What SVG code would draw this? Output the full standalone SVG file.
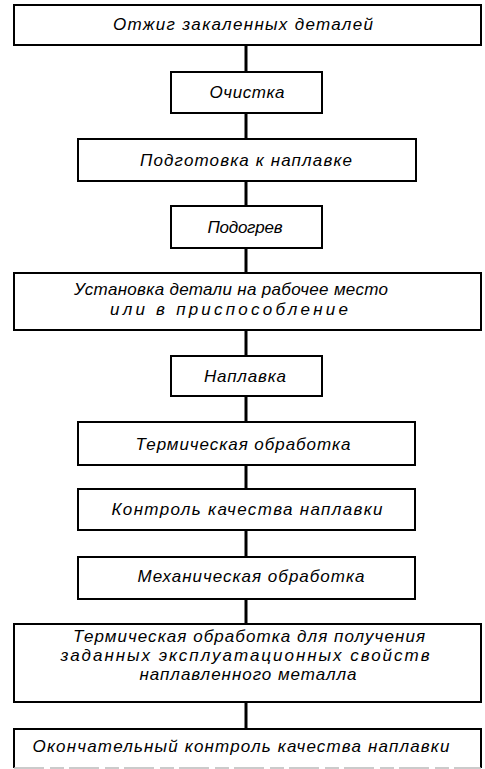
<svg xmlns="http://www.w3.org/2000/svg" width="485" height="769" viewBox="0 0 485 769">
<style>
.box{fill:#fff;stroke:#000;stroke-width:2}
.t{font-family:"Liberation Sans","DejaVu Sans",sans-serif;font-style:italic;font-size:17px;fill:#000;text-anchor:middle}
.c{stroke:#000;stroke-width:3;fill:none}
</style>
<rect width="485" height="769" fill="#fff"/>
<g id="connectors">
<line class="c" x1="246" y1="45" x2="246" y2="72"/>
<line class="c" x1="246" y1="113" x2="246" y2="139"/>
<line class="c" x1="246" y1="181" x2="246" y2="206"/>
<line class="c" x1="246" y1="248" x2="246" y2="273"/>
<line class="c" x1="246" y1="330" x2="246" y2="356"/>
<line class="c" x1="246" y1="396" x2="246" y2="422"/>
<line class="c" x1="246" y1="465" x2="246" y2="489"/>
<line class="c" x1="246" y1="530" x2="246" y2="557"/>
<line class="c" x1="246" y1="599" x2="246" y2="624"/>
<line class="c" x1="246" y1="702" x2="246" y2="729"/>
</g>
<g id="n1"><rect class="box" x="14" y="5" width="467" height="40"/><text class="t" x="243" y="30" textLength="260" lengthAdjust="spacing">Отжиг закаленных деталей</text></g>
<g id="n2"><rect class="box" x="171" y="72" width="151" height="41"/><text class="t" x="247" y="98" textLength="75" lengthAdjust="spacing">Очистка</text></g>
<g id="n3"><rect class="box" x="78" y="139" width="338" height="42"/><text class="t" x="246" y="166" textLength="212" lengthAdjust="spacing">Подготовка к наплавке</text></g>
<g id="n4"><rect class="box" x="171" y="206" width="151" height="42"/><text class="t" x="245" y="233" textLength="75" lengthAdjust="spacing">Подогрев</text></g>
<g id="n5"><rect class="box" x="14" y="273" width="467" height="57"/><text class="t" x="231" y="295" textLength="314" lengthAdjust="spacing">Установка детали на рабочее место</text><text class="t" x="229" y="315" textLength="238" lengthAdjust="spacing">или в приспособление</text></g>
<g id="n6"><rect class="box" x="171" y="356" width="151" height="40"/><text class="t" x="245" y="382" textLength="82" lengthAdjust="spacing">Наплавка</text></g>
<g id="n7"><rect class="box" x="78" y="422" width="337" height="43"/><text class="t" x="243" y="450" textLength="215" lengthAdjust="spacing">Термическая обработка</text></g>
<g id="n8"><rect class="box" x="78" y="489" width="337" height="41"/><text class="t" x="247" y="515" textLength="271" lengthAdjust="spacing">Контроль качества наплавки</text></g>
<g id="n9"><rect class="box" x="78" y="557" width="337" height="42"/><text class="t" x="251" y="582" textLength="227" lengthAdjust="spacing">Механическая обработка</text></g>
<g id="n10"><rect class="box" x="14" y="624" width="467" height="78"/><text class="t" x="249" y="642" textLength="352" lengthAdjust="spacing">Термическая обработка для получения</text><text class="t" x="245" y="661" textLength="369" lengthAdjust="spacing">заданных эксплуатационных  свойств</text><text class="t" x="248" y="680" textLength="217" lengthAdjust="spacing">наплавленного металла</text></g>
<g id="n11"><path d="M14 768 V729 H481 V768" fill="#fff" stroke="#000" stroke-width="2"/><line x1="14" y1="768" x2="481" y2="768" stroke="#bbb" stroke-width="1.5" stroke-dasharray="30 6 14 5"/><text class="t" x="241" y="752" textLength="417" lengthAdjust="spacing">Окончательный контроль качества наплавки</text></g>
</svg>
